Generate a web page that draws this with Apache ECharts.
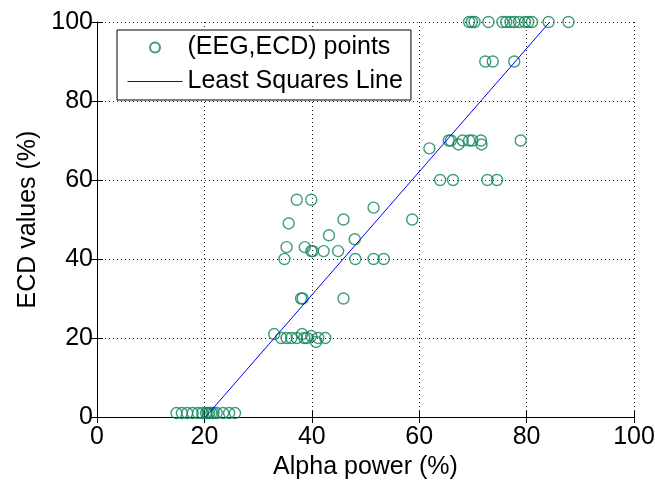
<!DOCTYPE html>
<html>
<head>
<meta charset="utf-8">
<script src="https://cdn.jsdelivr.net/npm/echarts@6/dist/echarts.min.js"></script>
<style>html,body{margin:0;padding:0;background:#fff}#c{width:655px;height:481px}</style>
</head>
<body>
<div id="c"></div>
<script>
// EEG alpha power (%) vs ECD values (%)
const alphaPower = [
  14.8, 15.8, 16.8, 17.8, 18.8, 19.6, 20.3, 20.6, 20.9, 21.3, 21.7, 22.3, 23.5, 24.6, 25.7,
  33.0, 34.3, 35.3, 36.2, 37.2, 38.2, 38.6, 39.1, 39.9, 40.8, 41.2, 42.5,
  38.0, 38.3, 45.9,
  34.9, 48.1, 51.5, 53.4,
  35.3, 38.7, 39.9, 40.2, 42.2, 44.9,
  43.2, 48.0,
  35.7, 45.9, 58.7,
  51.5,
  37.2, 39.9,
  63.9, 66.3, 72.7, 74.5,
  61.9, 65.5, 65.9, 67.3, 68.1, 69.3, 69.9, 71.5, 71.6, 78.9,
  72.3, 73.7, 77.7,
  69.3, 69.8, 70.3, 72.9, 75.5, 76.2, 77.0, 77.7, 78.6, 79.7, 80.3, 81.0, 84.1, 87.8
];
const ecdValues = [
  1, 1, 1, 1, 1, 1, 1, 1, 1, 1, 1, 1, 1, 1, 1,
  21, 20, 20, 20, 20, 21, 20, 20, 20.5, 19, 20, 20,
  30, 30, 30,
  40, 40, 40, 40,
  43, 43, 42, 42, 42, 42,
  46, 45,
  49, 50, 50,
  53,
  55, 55,
  60, 60, 60, 60,
  68, 70, 70, 69, 70, 70, 70, 70, 69, 70,
  90, 90, 90,
  100, 100, 100, 100, 100, 100, 100, 100, 100, 100, 100, 100, 100, 100
];
const fitX = [20.2, 84.3];
const fitY = [0, 100];
const xTicks = [0, 20, 40, 60, 80, 100];
const yTicks = [0, 20, 40, 60, 80, 100];

const scatterData = alphaPower.map((x, i) => [x, ecdValues[i]]);
const lineData = fitX.map((x, i) => [x, fitY[i]]);

const FONT = 'Liberation Sans, Arial, sans-serif';
const FS = 25;
const MARK = '#118558';
const grid = {left: 97, right: 21, top: 22, bottom: 64, outerBoundsMode: 'none', containLabel: false};
const dotted = {color: '#222', width: 1, type: [1, 3]};

const chart = echarts.init(document.getElementById('c'), null, {renderer: 'canvas'});
chart.setOption({
  animation: false,
  backgroundColor: '#fff',
  grid: grid,
  legend: {
    left: 117, top: 30,
    orient: 'vertical',
    backgroundColor: '#fff',
    borderColor: '#000', borderWidth: 1,
    padding: [5, 8, 6, 10],
    itemGap: 9,
    itemWidth: 55, itemHeight: 10,
    textStyle: {fontFamily: FONT, fontSize: FS, color: '#000'},
    data: [
      {name: '(EEG,ECD) points'},
      {name: 'Least Squares Line', itemStyle: {opacity: 0},
       lineStyle: {color: '#0000ff', width: 1}}
    ]
  },
  xAxis: [{
    type: 'value', min: 0, max: 100, interval: 20,
    name: 'Alpha power (%)', nameLocation: 'middle', nameGap: 36,
    nameTextStyle: {fontFamily: FONT, fontSize: FS, color: '#000'},
    axisLine: {show: true, lineStyle: {color: '#000', width: 1}},
    axisTick: {show: true, inside: true, length: 6, lineStyle: {color: '#000'}},
    axisLabel: {fontFamily: FONT, fontSize: FS, color: '#000', margin: 8,
      formatter: v => xTicks.includes(v) ? String(v) : ''},
    splitLine: {show: true, lineStyle: dotted}
  }, {
    type: 'value', min: 0, max: 100, interval: 20, position: 'top',
    axisLine: {show: false},
    axisTick: {show: true, inside: true, length: 6, lineStyle: {color: '#000'}},
    axisLabel: {show: false}, splitLine: {show: false}
  }],
  yAxis: [{
    type: 'value', min: 0, max: 100, interval: 20,
    name: 'ECD values (%)', nameLocation: 'middle', nameGap: 48,
    nameTextStyle: {fontFamily: FONT, fontSize: FS, color: '#000'},
    axisLine: {show: true, lineStyle: {color: '#000', width: 1}},
    axisTick: {show: true, inside: true, length: 6, lineStyle: {color: '#000'}},
    axisLabel: {fontFamily: FONT, fontSize: FS, color: '#000', margin: 4,
      formatter: v => yTicks.includes(v) ? String(v) : ''},
    splitLine: {show: true, lineStyle: dotted}
  }, {
    type: 'value', min: 0, max: 100, interval: 20, position: 'right',
    axisLine: {show: false},
    axisTick: {show: true, inside: true, length: 6, lineStyle: {color: '#000'}},
    axisLabel: {show: false}, splitLine: {show: false}
  }],
  series: [{
    name: '(EEG,ECD) points',
    type: 'scatter',
    symbol: 'circle', symbolSize: 11,
    itemStyle: {color: 'rgba(0,0,0,0)', borderColor: MARK, borderWidth: 1.4},
    data: scatterData
  }, {
    name: 'Least Squares Line',
    type: 'line',
    symbol: 'none',
    lineStyle: {color: '#0000ff', width: 1},
    itemStyle: {color: '#0000ff'},
    data: lineData
  }]
});
</script>
</body>
</html>
